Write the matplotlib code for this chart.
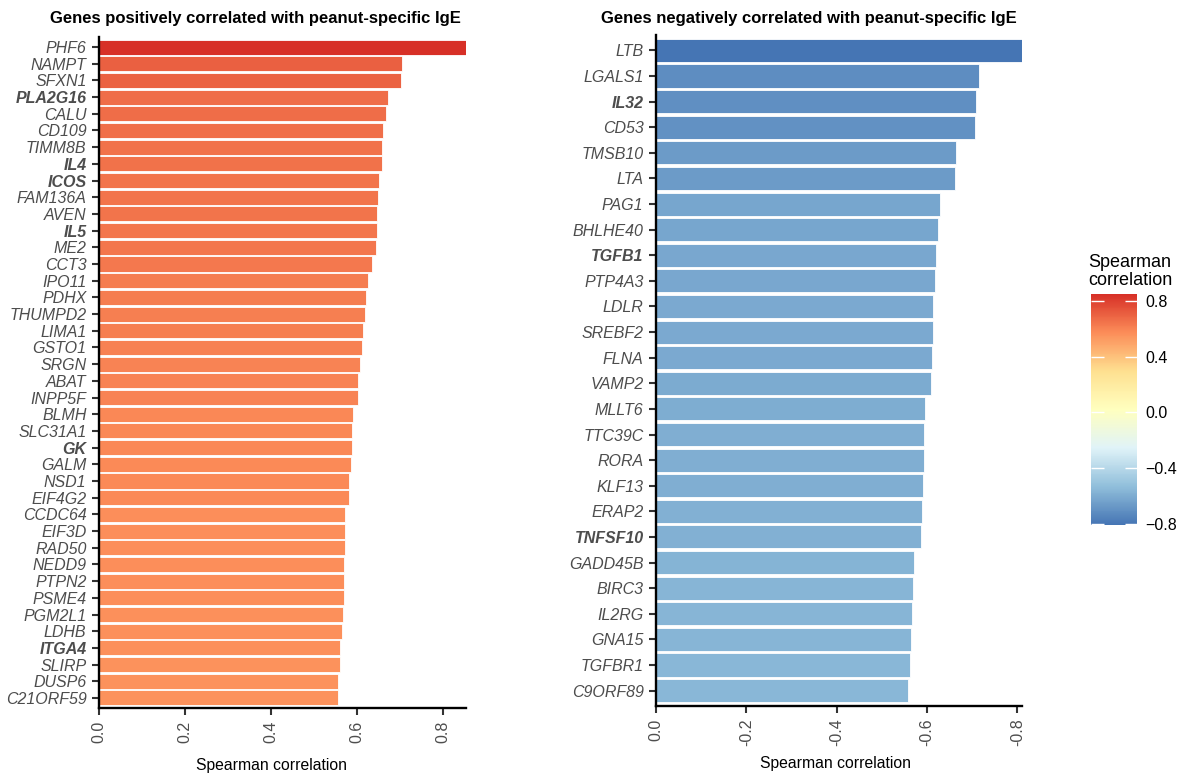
import numpy as np
import matplotlib
matplotlib.use("Agg")
import matplotlib.pyplot as plt
from matplotlib.colors import LinearSegmentedColormap, Normalize
from matplotlib.cm import ScalarMappable

plt.rcParams["font.family"] = ["Liberation Sans", "DejaVu Sans"]

# positively correlated genes (top to bottom)
pos_genes = ["PHF6", "NAMPT", "SFXN1", "PLA2G16", "CALU", "CD109", "TIMM8B", "IL4",
             "ICOS", "FAM136A", "AVEN", "IL5", "ME2", "CCT3", "IPO11", "PDHX",
             "THUMPD2", "LIMA1", "GSTO1", "SRGN", "ABAT", "INPP5F", "BLMH", "SLC31A1",
             "GK", "GALM", "NSD1", "EIF4G2", "CCDC64", "EIF3D", "RAD50", "NEDD9",
             "PTPN2", "PSME4", "PGM2L1", "LDHB", "ITGA4", "SLIRP", "DUSP6", "C21ORF59"]
pos_rho = [0.853, 0.705, 0.702, 0.671, 0.666, 0.661, 0.658, 0.657,
           0.651, 0.648, 0.647, 0.645, 0.643, 0.634, 0.625, 0.621,
           0.619, 0.614, 0.611, 0.606, 0.603, 0.602, 0.590, 0.589,
           0.588, 0.585, 0.582, 0.582, 0.572, 0.572, 0.571, 0.570,
           0.569, 0.569, 0.567, 0.565, 0.561, 0.560, 0.556, 0.555]
pos_bold = ["PLA2G16", "IL4", "ICOS", "IL5", "GK", "ITGA4"]

# negatively correlated genes (top to bottom)
neg_genes = ["LTB", "LGALS1", "IL32", "CD53", "TMSB10", "LTA", "PAG1", "BHLHE40",
             "TGFB1", "PTP4A3", "LDLR", "SREBF2", "FLNA", "VAMP2", "MLLT6", "TTC39C",
             "RORA", "KLF13", "ERAP2", "TNFSF10", "GADD45B", "BIRC3", "IL2RG", "GNA15",
             "TGFBR1", "C9ORF89"]
neg_rho = [-0.810, -0.715, -0.708, -0.706, -0.663, -0.662, -0.628, -0.625,
           -0.620, -0.618, -0.614, -0.613, -0.611, -0.608, -0.596, -0.593,
           -0.593, -0.590, -0.588, -0.586, -0.570, -0.569, -0.566, -0.565,
           -0.563, -0.558]
neg_bold = ["IL32", "TGFB1", "TNFSF10"]

pal = ["#4575b4", "#91bfdb", "#e0f3f8", "#ffffbf", "#fee090", "#fc8d59", "#d73027"]
cmap = LinearSegmentedColormap.from_list("rdylbu7", pal)
norm = Normalize(vmin=min(neg_rho), vmax=max(pos_rho))

W, H = 1181, 775
fig = plt.figure(figsize=(W / 100, H / 100), dpi=100)


def px_axes(x0, y0, x1, y1):
    return fig.add_axes([x0 / W, 1 - y1 / H, (x1 - x0) / W, (y1 - y0) / H])


def bar_panel(ax, genes, rho, bold, xticks, xlabels):
    n = len(genes)
    y = np.arange(n)[::-1]
    ax.barh(y, rho, height=0.9, color=cmap(norm(np.array(rho))),
            edgecolor="white", linewidth=0.6)
    ax.set_ylim(-0.6, n - 0.4)
    ax.set_yticks(y)
    ax.set_yticklabels(genes, style="italic", color="#4d4d4d", fontsize=11.5)
    for lab in ax.get_yticklabels():
        if lab.get_text() in bold:
            lab.set_fontweight("bold")
    ax.set_xticks(xticks)
    ax.set_xticklabels(xlabels, rotation=90, color="#4d4d4d", fontsize=11.5)
    for s in ["top", "right"]:
        ax.spines[s].set_visible(False)
    for s in ["left", "bottom"]:
        ax.spines[s].set_linewidth(1.7)
        ax.spines[s].set_color("black")
    ax.tick_params(length=5, width=1.5, color="#333333", pad=4)
    ax.set_xlabel("Spearman correlation", fontsize=11.3, labelpad=14)


ax1 = px_axes(99, 37, 466, 708)
bar_panel(ax1, pos_genes, pos_rho, pos_bold,
          [0, 0.2, 0.4, 0.6, 0.8], ["0.0", "0.2", "0.4", "0.6", "0.8"])
ax1.set_xlim(0, max(pos_rho))
ax1.xaxis.set_label_coords(0.47, -0.075)

ax2 = px_axes(656, 35, 1022, 706)
bar_panel(ax2, neg_genes, neg_rho, neg_bold,
          [0, -0.2, -0.4, -0.6, -0.8], ["0.0", "-0.2", "-0.4", "-0.6", "-0.8"])
ax2.set_xlim(0, min(neg_rho))
ax2.xaxis.set_label_coords(0.49, -0.075)

fig.text(255 / W, 1 - 18 / H, "Genes positively correlated with peanut-specific IgE",
         ha="center", va="center", fontsize=12, fontweight="bold")
fig.text(809 / W, 1 - 18 / H, "Genes negatively correlated with peanut-specific IgE",
         ha="center", va="center", fontsize=12, fontweight="bold")

# colour legend
cax = px_axes(1091, 294, 1137, 525)
cb = fig.colorbar(ScalarMappable(norm=norm, cmap=cmap), cax=cax,
                  ticks=[-0.8, -0.4, 0.0, 0.4, 0.8])
cb.outline.set_visible(False)
cax.tick_params(axis="y", which="both", direction="in", length=9, width=1,
                color="white", left=True, right=True, labelsize=11.5, pad=6)
cax.set_yticklabels(["\u22120.8", "\u22120.4", "0.0", "0.4", "0.8"])
fig.text(1130 / W, 1 - 289 / H, "Spearman\ncorrelation", ha="center", va="bottom",
         multialignment="center", fontsize=13, linespacing=1.1)

fig.savefig("out.png", dpi=100)
